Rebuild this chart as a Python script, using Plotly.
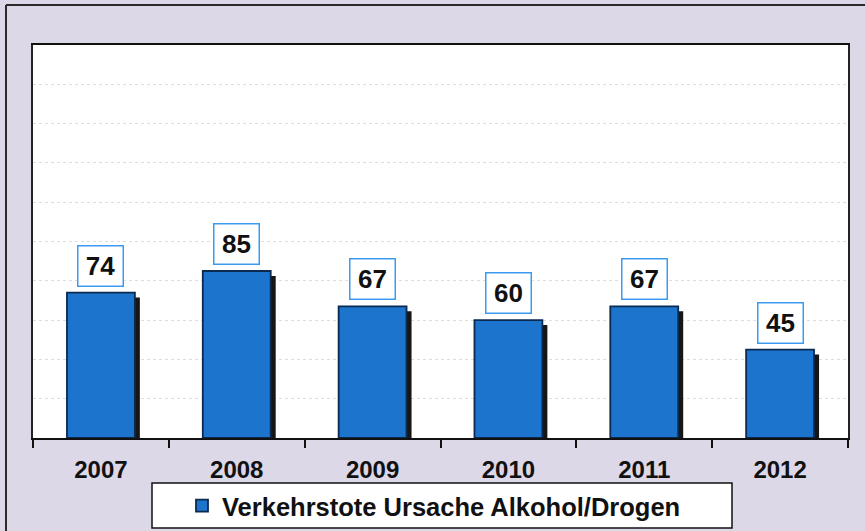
import plotly.graph_objects as go

years = ["2007", "2008", "2009", "2010", "2011", "2012"]
values = [74, 85, 67, 60, 67, 45]
series_name = "Verkehrstote Ursache Alkohol/Drogen"

W, H = 865, 531
ML, MR, MT, MB = 33, 17, 45, 93
pw = W - ML - MR
ph = H - MT - MB

def px_x(x):
    return (x - ML) / pw

def px_y(y):
    return (H - MB - y) / ph

FONT = "Liberation Sans, Arial, sans-serif"
BLUE = "#1c74cc"
EDGE = "#0b2a52"

fig = go.Figure()

# shadow bars
fig.add_trace(go.Bar(
    x=years, y=[v - 2.5 for v in values],
    width=0.5, offset=-0.25 + 5 / 136,
    marker=dict(color="#161616", line=dict(width=0)),
    showlegend=False, hoverinfo="skip",
))
# main bars
fig.add_trace(go.Bar(
    x=years, y=values, name=series_name,
    width=0.5, offset=-0.25,
    marker=dict(color=BLUE, line=dict(color=EDGE, width=1.8)),
))

for i, v in enumerate(values):
    fig.add_annotation(
        xref="x", yref="y", x=i, y=v, yanchor="bottom", yshift=6,
        text="<b>%d</b>" % v, showarrow=False,
        font=dict(family=FONT, size=26, color="#111111"),
        bgcolor="white", bordercolor="#3a9af0", borderwidth=1.5, borderpad=0,
        width=44, height=39,
    )

shapes = [
    # legend box
    dict(type="rect", xref="paper", yref="paper",
         x0=px_x(152), x1=px_x(732), y0=px_y(528), y1=px_y(483),
         fillcolor="white", line=dict(color="#111111", width=1.5), layer="below"),
    # outer frame lines
    dict(type="line", xref="paper", yref="paper",
         x0=px_x(6), x1=px_x(6), y0=px_y(H + 5), y1=px_y(5),
         line=dict(color="#2a2a2a", width=2)),
    dict(type="line", xref="paper", yref="paper",
         x0=px_x(6), x1=px_x(W + 5), y0=px_y(5), y1=px_y(5),
         line=dict(color="#2a2a2a", width=2)),
]

fig.update_layout(
    width=W, height=H,
    margin=dict(l=ML, r=MR, t=MT, b=MB, autoexpand=False),
    paper_bgcolor="#dcd8e8",
    plot_bgcolor="white",
    barmode="overlay",
    shapes=shapes,
    showlegend=True,
    legend=dict(
        orientation="h", xref="container", yref="container",
        x=434 / W, xanchor="center",
        y=(H - 506) / H, yanchor="middle",
        bgcolor="rgba(0,0,0,0)", borderwidth=0,
        font=dict(family=FONT, size=25.5, color="#111111", weight="bold"),
        itemwidth=30,
    ),
    xaxis=dict(
        type="category", showline=True, linecolor="#111111", linewidth=1.5,
        mirror=True, ticks="outside", tickson="boundaries", ticklen=8,
        tickcolor="#111111", tickwidth=1.5, ticklabelstandoff=9,
        tickfont=dict(family=FONT, size=24, color="#111111", weight="bold"),
        showgrid=False, range=[-0.5, 5.5],
    ),
    yaxis=dict(
        range=[0, 200], dtick=20, showticklabels=False, ticks="",
        showgrid=True, gridcolor="#dddddd", gridwidth=1, griddash="dot",
        showline=True, linecolor="#222222", linewidth=1.5, mirror=True,
        zeroline=False,
    ),
)

fig.write_html("out.html", config={"displayModeBar": False},
               post_script="document.body.style.margin='0';")
